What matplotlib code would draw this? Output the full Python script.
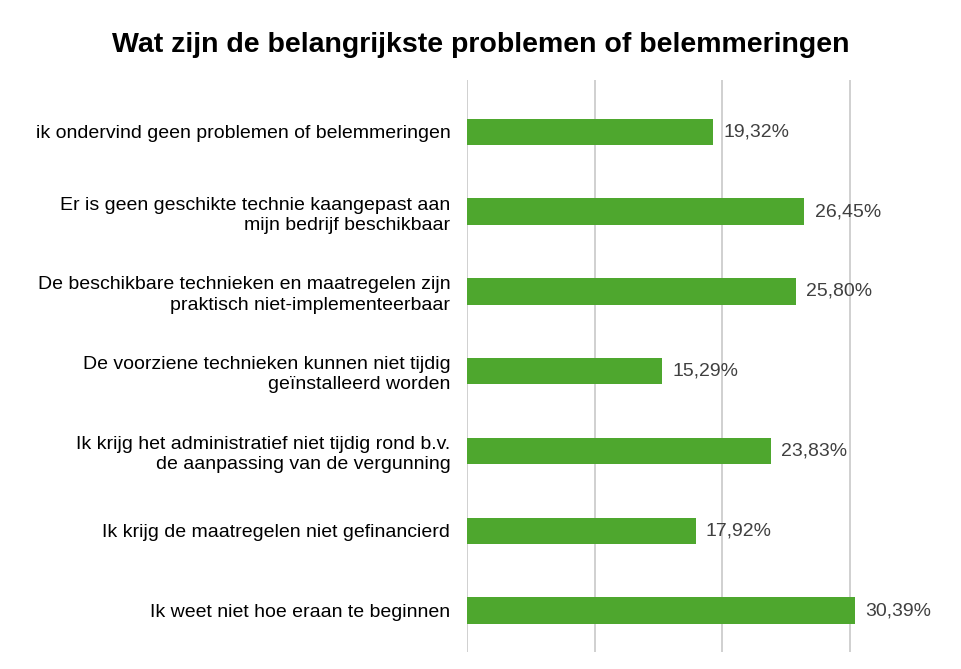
import matplotlib.pyplot as plt

categories = [
    "ik ondervind geen problemen of belemmeringen",
    "Er is geen geschikte technie kaangepast aan\nmijn bedrijf beschikbaar",
    "De beschikbare technieken en maatregelen zijn\npraktisch niet-implementeerbaar",
    "De voorziene technieken kunnen niet tijdig\ngeïnstalleerd worden",
    "Ik krijg het administratief niet tijdig rond b.v.\nde aanpassing van de vergunning",
    "Ik krijg de maatregelen niet gefinancierd",
    "Ik weet niet hoe eraan te beginnen",
]
values = [19.32, 26.45, 25.80, 15.29, 23.83, 17.92, 30.39]
value_labels = ["19,32%", "26,45%", "25,80%", "15,29%", "23,83%", "17,92%", "30,39%"]
grid_ticks = [0, 10, 20, 30]

fig = plt.figure(figsize=(9.62, 6.69), dpi=100)
ax = fig.add_axes([467 / 962, 1 - 652 / 669, 1 - 467 / 962, (652 - 80) / 669])

y = list(range(len(categories)))
ax.barh(y, values, height=0.33, color="#4ea72e", zorder=3)
ax.set_xlim(0, 38.8)
ax.set_ylim(6.52, -0.65)
ax.set_xticks(grid_ticks)
ax.set_xticklabels([])
ax.tick_params(length=0)
ax.grid(axis="x", color="#c8c8c8", linewidth=1.2, zorder=0)
ax.set_yticks(y)
ax.set_yticklabels(categories, fontsize=14, fontfamily="Liberation Sans", linespacing=1.25)
ax.tick_params(axis="y", pad=12)
for s in ax.spines.values():
    s.set_visible(False)

for yi, v, lab in zip(y, values, value_labels):
    ax.text(v + 0.8, yi, lab, va="center", ha="left", fontsize=14,
            color="#404040", fontfamily="Liberation Sans")

fig.text(0.5, 1 - 45 / 669, "Wat zijn de belangrijkste problemen of belemmeringen",
         ha="center", va="center", fontsize=20.5, fontweight="bold",
         fontfamily="Liberation Sans")

fig.savefig("out.png", dpi=100)
